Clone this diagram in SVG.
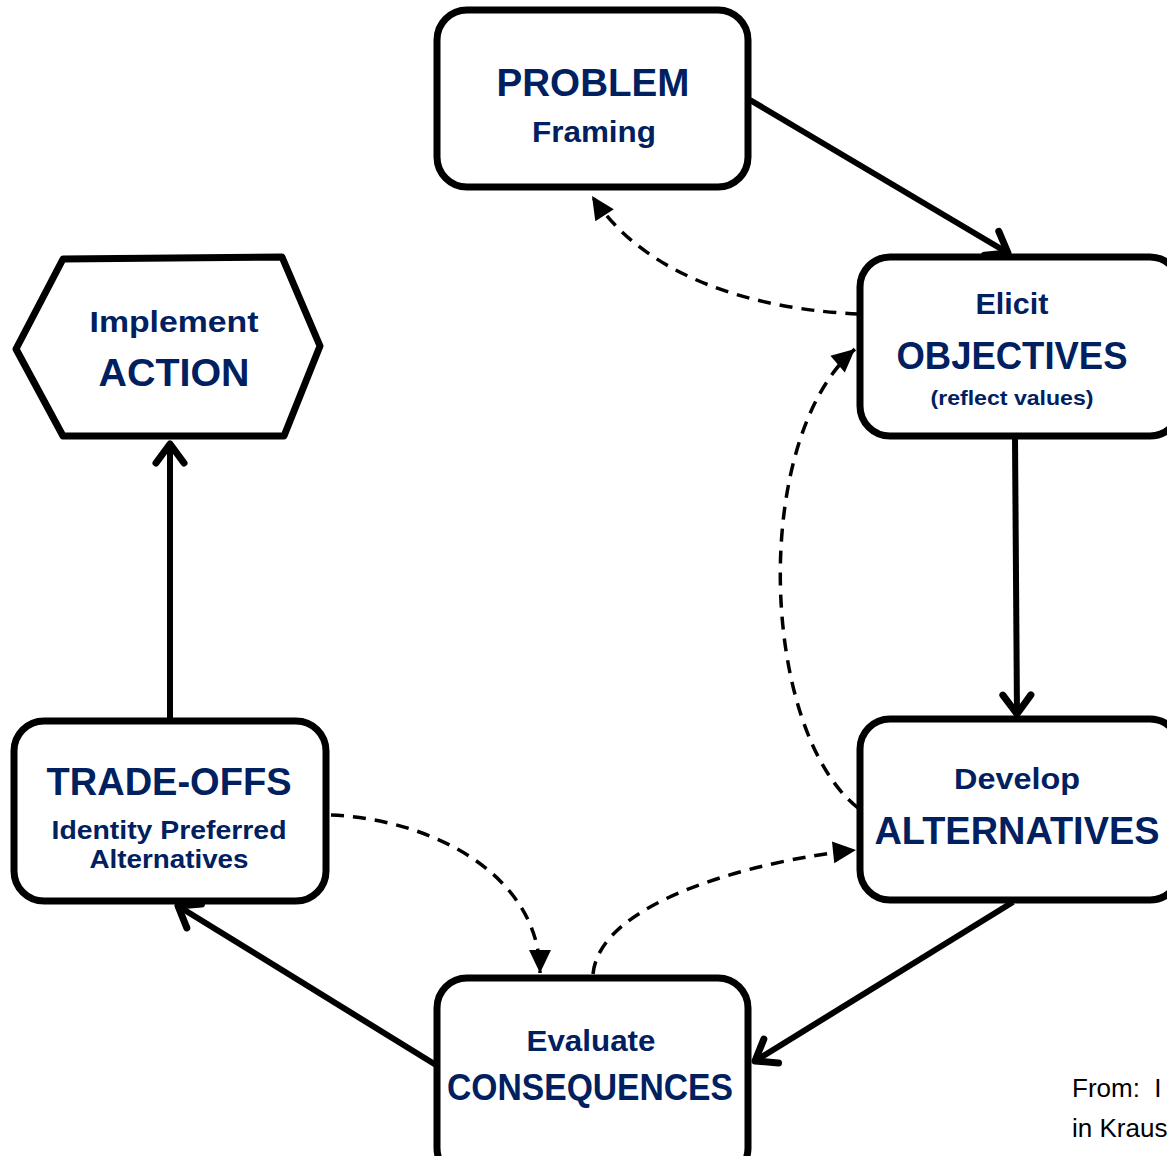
<svg xmlns="http://www.w3.org/2000/svg" width="1167" height="1156" viewBox="0 0 1167 1156">
  <style>
    .box { fill: #ffffff; stroke: #000000; stroke-width: 7; }
    .t { font-family: "Liberation Sans", Arial, sans-serif; font-weight: bold; fill: #002060; text-anchor: middle; }
    .solid { fill: none; stroke: #000000; stroke-width: 6; marker-end: url(#openHead); }
    .dash { fill: none; stroke: #000000; stroke-width: 3.5; stroke-dasharray: 13 9; marker-end: url(#fillHead); }
    .note { font-family: "Liberation Sans", Arial, sans-serif; font-size: 26px; fill: #000000; white-space: pre; }
  </style>
  <defs>
    <marker id="openHead" markerUnits="userSpaceOnUse" viewBox="-30 -20 36 40" refX="0" refY="0" markerWidth="36" markerHeight="40" orient="auto" overflow="visible">
      <path d="M-19,-14 L0,0 L-19,14" fill="none" stroke="#000" stroke-width="7" stroke-linecap="round" stroke-linejoin="round"/>
    </marker>
    <marker id="fillHead" markerUnits="userSpaceOnUse" viewBox="-26 -13 28 26" refX="0" refY="0" markerWidth="28" markerHeight="26" orient="auto" overflow="visible">
      <path d="M-23,-11 L0,0 L-23,11 Z" fill="#000"/>
    </marker>
  </defs>

  <!-- connectors -->
  <g id="connectors">
    <path class="solid" d="M750,100 L1008,253"/>
    <path class="solid" d="M1015,438 L1017,714"/>
    <path class="solid" d="M1013,902 L755,1061"/>
    <path class="solid" d="M436,1065 L178,906"/>
    <path class="solid" d="M170,718 L170,444"/>
    <path class="dash" d="M858,314 C770,310 650,285 592,196"/>
    <path class="dash" d="M858,808 C760,730 750,440 855,349"/>
    <path class="dash" d="M331,815 C440,820 540,880 540,973"/>
    <path class="dash" d="M593,974 C600,900 760,860 856,850"/>
  </g>

  <!-- nodes -->
  <g id="problem">
    <rect class="box" x="437" y="10" width="311" height="177" rx="30"/>
    <text class="t" x="593" y="96" font-size="39" textLength="193" lengthAdjust="spacingAndGlyphs">PROBLEM</text>
    <text class="t" x="594" y="142" font-size="29" textLength="124" lengthAdjust="spacingAndGlyphs">Framing</text>
  </g>

  <g id="objectives">
    <rect class="box" x="860" y="257" width="320" height="179" rx="30"/>
    <text class="t" x="1012" y="314" font-size="29" textLength="73" lengthAdjust="spacingAndGlyphs">Elicit</text>
    <text class="t" x="1012" y="369" font-size="39" textLength="231" lengthAdjust="spacingAndGlyphs">OBJECTIVES</text>
    <text class="t" x="1012" y="405" font-size="21" textLength="163" lengthAdjust="spacingAndGlyphs">(reflect values)</text>
  </g>

  <g id="alternatives">
    <rect class="box" x="860" y="719" width="320" height="181" rx="30"/>
    <text class="t" x="1017" y="789" font-size="29" textLength="126" lengthAdjust="spacingAndGlyphs">Develop</text>
    <text class="t" x="1017" y="844" font-size="39" textLength="285" lengthAdjust="spacingAndGlyphs">ALTERNATIVES</text>
  </g>

  <g id="consequences">
    <rect class="box" x="437" y="978" width="311" height="200" rx="30"/>
    <text class="t" x="591" y="1051" font-size="29" textLength="129" lengthAdjust="spacingAndGlyphs">Evaluate</text>
    <text class="t" x="590" y="1100" font-size="37" textLength="286" lengthAdjust="spacingAndGlyphs">CONSEQUENCES</text>
  </g>

  <g id="tradeoffs">
    <rect class="box" x="14" y="721" width="312" height="180" rx="30"/>
    <text class="t" x="169" y="795" font-size="39" textLength="245" lengthAdjust="spacingAndGlyphs">TRADE-OFFS</text>
    <text class="t" x="169" y="839" font-size="26" textLength="235" lengthAdjust="spacingAndGlyphs">Identity Preferred</text>
    <text class="t" x="169" y="868" font-size="26" textLength="159" lengthAdjust="spacingAndGlyphs">Alternatives</text>
  </g>

  <g id="action">
    <polygon class="box" points="16,349 63,259 282,257 320,346 284,436 63,436" stroke-linejoin="round"/>
    <text class="t" x="174" y="332" font-size="29" textLength="169" lengthAdjust="spacingAndGlyphs">Implement</text>
    <text class="t" x="174" y="386" font-size="39" textLength="151" lengthAdjust="spacingAndGlyphs">ACTION</text>
  </g>

  <g id="source-note">
    <text class="note" x="1072" y="1097" xml:space="preserve">From:  I</text>
    <text class="note" x="1072" y="1137">in Kraus</text>
  </g>
</svg>
